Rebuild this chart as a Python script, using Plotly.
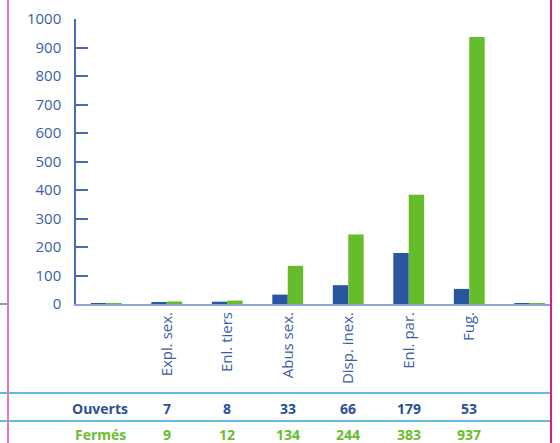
import plotly.graph_objects as go

categories = ["", "Expl. sex.", "Enl. tiers", "Abus sex.", "Disp. inex.", "Enl. par.", "Fug.", ""]
ouverts = [1, 7, 8, 33, 66, 179, 53, 1]
fermes = [1, 9, 12, 134, 244, 383, 937, 1]
row_labels = ["Ouverts", "Fermés"]
y_ticks = [0, 100, 200, 300, 400, 500, 600, 700, 800, 900, 1000]

BLUE = "#2a55a1"
GREEN = "#66bd2b"
TXT = "#3b5ea9"
FONT = "Open Sans"

W, H = 560, 443
L, R, T, B = 76, 0, 19, 139
pw, ph = W - L - R, H - T - B

def px(x):
    return (x - L) / pw

def py(y):
    return (H - B - y) / ph

xs = list(range(len(categories)))

fig = go.Figure()
fig.add_bar(x=xs, y=ouverts, marker_color=BLUE, marker_line_width=0, name="Ouverts")
fig.add_bar(x=xs, y=fermes, marker_color=GREEN, marker_line_width=0, name="Fermés")

shapes = []
# table lines
for yy in (393, 421):
    shapes.append(dict(type="line", xref="paper", yref="paper", x0=px(0), x1=px(551),
                       y0=py(yy), y1=py(yy), line=dict(color="#2ea3dc", width=1.5)))
# small left segment of baseline
shapes.append(dict(type="line", xref="paper", yref="paper", x0=px(0), x1=px(8),
                   y0=py(304), y1=py(304), line=dict(color="#5a7cc0", width=1.5)))
# white out right of page edge
shapes.append(dict(type="rect", xref="paper", yref="paper", x0=px(552), x1=px(561),
                   y0=py(443), y1=py(0), fillcolor="white", line=dict(width=0), layer="above"))
# pink page borders
shapes.append(dict(type="line", xref="paper", yref="paper", x0=px(8), x1=px(8),
                   y0=py(443), y1=py(0), line=dict(color="#e47ab5", width=2), layer="above"))
shapes.append(dict(type="line", xref="paper", yref="paper", x0=px(551), x1=px(551),
                   y0=py(443), y1=py(0), line=dict(color="#d81b8a", width=2), layer="above"))

annotations = []
row_y = [408, 434]
row_colors = ["#2b4f9a", "#6abd2c"]
row_vals = [ouverts, fermes]
for label, yy, col, vals in zip(row_labels, row_y, row_colors, row_vals):
    annotations.append(dict(text=f"<b>{label}</b>", xref="paper", yref="paper",
                            x=px(100), y=py(yy), xanchor="center", yanchor="middle",
                            showarrow=False, font=dict(family=FONT, size=14, color=col)))
    for i in range(1, len(categories) - 1):
        annotations.append(dict(text=f"<b>{vals[i]}</b>", xref="x", yref="paper",
                                x=xs[i], y=py(yy), xanchor="center", yanchor="middle",
                                showarrow=False, font=dict(family=FONT, size=14, color=col)))

fig.update_layout(
    width=W, height=H,
    margin=dict(l=L, r=R, t=T, b=B, pad=0),
    paper_bgcolor="white", plot_bgcolor="white",
    barmode="group", bargap=0.49, bargroupgap=0,
    showlegend=False,
    font=dict(family=FONT, size=15, color=TXT),
    shapes=shapes, annotations=annotations,
    xaxis=dict(range=[-0.5, len(categories) - 0.5], tickvals=xs, ticktext=categories,
               tickangle=-90, showgrid=False, zeroline=False, showline=True,
               linecolor="#8da4d0", linewidth=2, ticks="",
               tickfont=dict(family=FONT, size=15, color=TXT)),
    yaxis=dict(range=[0, 1000], tickvals=y_ticks, showgrid=False, zeroline=False,
               showline=True, linecolor="#4a6cb4", linewidth=1.5,
               ticks="inside", ticklen=12, tickcolor="#4a6cb4", tickwidth=1.5,
               ticklabelstandoff=10,
               tickfont=dict(family=FONT, size=15, color=TXT)),
)

fig.write_html("out.html", config={"displayModeBar": False},
               post_script="document.body.style.margin='0';document.body.style.overflow='hidden';")
